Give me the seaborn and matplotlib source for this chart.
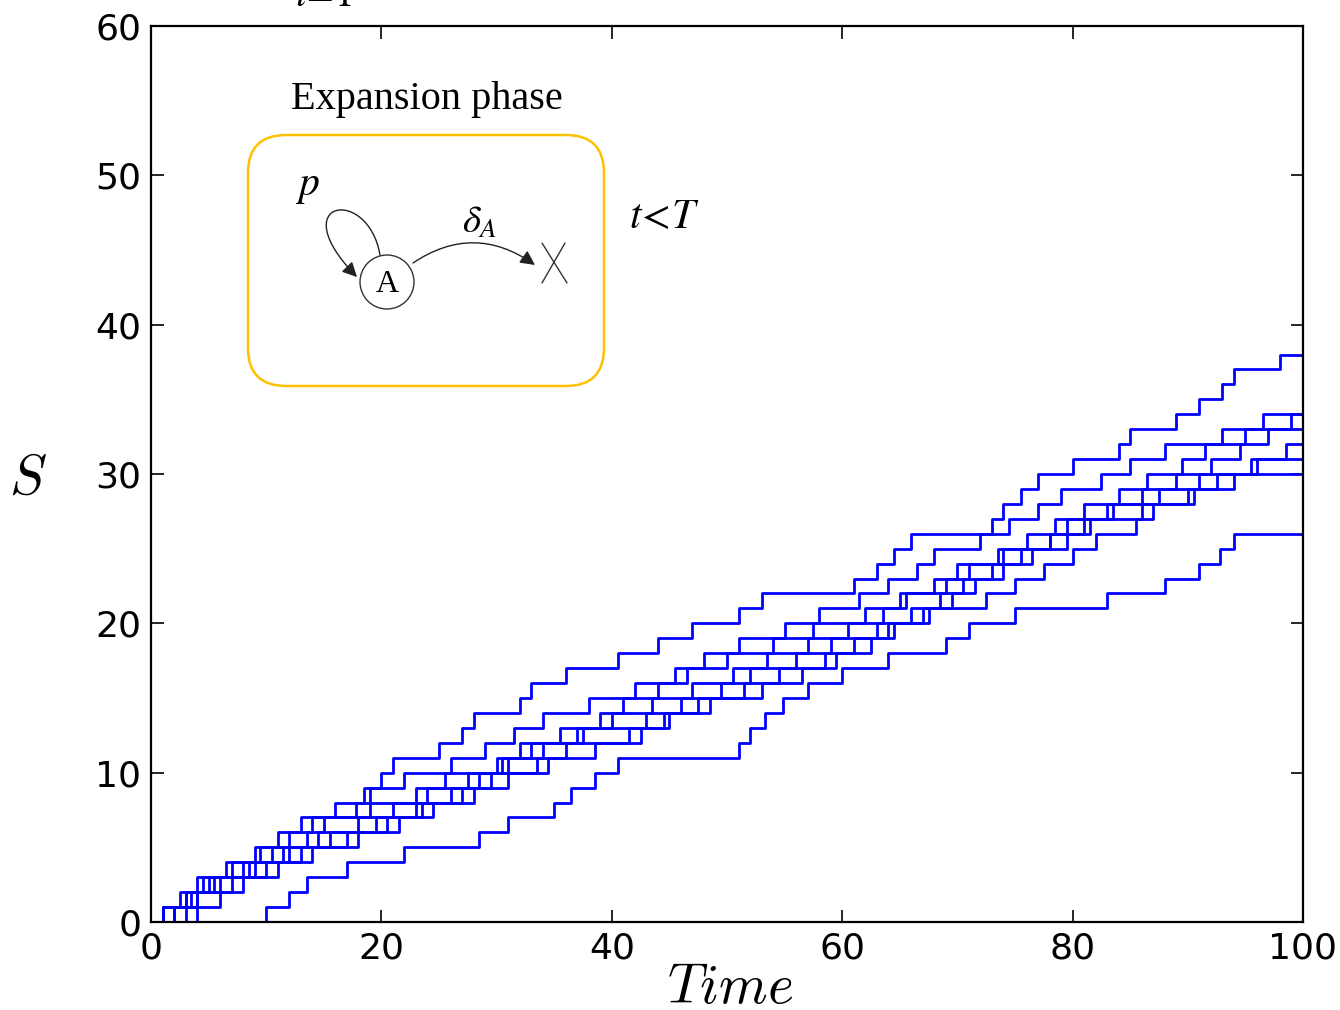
import numpy as np
import pandas as pd
import seaborn as sns
import matplotlib.pyplot as plt
from matplotlib.patches import FancyBboxPatch, Circle, FancyArrowPatch
from matplotlib.path import Path

# ---------------- data: jump times of each stochastic trajectory ----------------
T_END = 100
run1_jumps = [1, 2.5, 4, 6.5, 9.5, 12, 14, 17.8, 19, 20, 21, 25, 27, 28, 32, 33, 36,
              40.5, 44, 47, 51, 53, 61, 63, 64.5, 66, 73, 74, 75.5, 77, 80, 84, 85,
              89, 91, 93, 94, 98]
run2_jumps = [2, 3, 4.5, 7, 9, 11, 13, 16, 18.5, 22, 26, 29, 31.5, 34, 38, 42, 45.5,
              48, 51, 55, 58, 61.5, 64, 66.5, 68, 72, 74.5, 77, 79, 82.5, 85, 88, 93,
              96.5]
run3_jumps = [1, 3.5, 5, 8, 10.5, 13.5, 15, 19, 23, 25.5, 30, 32, 35.5, 39, 41, 44,
              46.5, 50, 54, 57.5, 62, 65.5, 69, 71, 73.5, 76, 78.5, 81, 84, 86.5, 89.5,
              91.5, 95, 99]
run4_jumps = [2, 4, 6, 9, 12, 14.5, 18, 21, 24, 27.5, 30.5, 33, 37, 43, 46, 49.5, 52,
              56, 59, 63, 66, 68.5, 70.5, 74, 76.5, 79.5, 81.5, 83, 86, 89, 92, 94.5, 97]
run5_jumps = [1, 3, 5.5, 8.5, 11.5, 15.5, 19.5, 23.5, 28, 31, 34.5, 38.5, 42.5, 45,
              47.5, 51.5, 54.5, 58.5, 61, 64.5, 67.5, 72.5, 75, 77.5, 80, 82, 85.5, 87,
              90, 92.5, 95.5, 98.5]
run6_jumps = [3, 4, 7, 10, 13, 17, 20.5, 24.5, 27, 29.5, 33.5, 36, 41.5, 44.5, 48.5,
              53, 56.5, 59.5, 62.5, 64, 67, 69.5, 71.5, 73, 75.5, 78, 79.5, 83.5, 87.5,
              91, 96]
run7_jumps = [4, 6, 8, 11, 14, 18, 21.5, 23, 26, 28.5, 31, 34, 37.5, 40, 43.5, 47,
              50.5, 53.5, 57, 60.5, 63.5, 65, 68, 70, 74, 78, 81, 86, 90.5, 94]
run8_jumps = [10, 12, 13.5, 17, 22, 28.5, 31, 35, 36.5, 38.5, 40.5, 51, 52, 53.3, 54.9,
              57, 60, 64, 69, 71, 75, 83, 88, 91, 92.8, 94]

runs = [run1_jumps, run2_jumps, run3_jumps, run4_jumps,
        run5_jumps, run6_jumps, run7_jumps, run8_jumps]

x_ticks = [0, 20, 40, 60, 80, 100]
y_ticks = [0, 10, 20, 30, 40, 50, 60]

rows = []
for k, jumps in enumerate(runs):
    times = [0.0] + list(jumps) + [T_END]
    vals = list(range(len(jumps) + 1)) + [len(jumps)]
    for t, s in zip(times, vals):
        rows.append({"run": k, "time": t, "S": s})
df = pd.DataFrame(rows)

# ---------------- figure ----------------
sns.set_style("ticks")
plt.rcParams["font.family"] = ["DejaVu Sans"]
plt.rcParams["mathtext.fontset"] = "cm"
plt.rcParams["text.color"] = "black"
plt.rcParams["axes.labelcolor"] = "black"

W, H = 1340, 1010
fig = plt.figure(figsize=(W / 100, H / 100), dpi=100)
ax = fig.add_axes([151 / W, 1 - 922 / H, (1303 - 151) / W, (922 - 26) / H])

sns.lineplot(data=df, x="time", y="S", units="run", estimator=None, sort=False,
             color="#0000ff", lw=2.0, drawstyle="steps-post", legend=False, ax=ax)

ax.set_xlim(0, 100)
ax.set_ylim(0, 60)
ax.set_xticks(x_ticks)
ax.set_yticks(y_ticks)
ax.tick_params(direction="in", top=True, right=True, length=9, width=1.2,
               labelsize=26, pad=7, colors="black")
for sp in ax.spines.values():
    sp.set_linewidth(1.6)
    sp.set_color("black")

ax.set_xlabel("$Time$", fontsize=40, va="center")
ax.xaxis.set_label_coords(0.503, -0.074)
ax.set_ylabel("$S$", fontsize=40, rotation=0, va="center", ha="center")
ax.yaxis.set_label_coords(-0.107, 0.495)

# ---------------- overlay (pixel coordinates) ----------------
ov = fig.add_axes([0, 0, 1, 1], zorder=5)
ov.set_xlim(0, W)
ov.set_ylim(H, 0)
ov.axis("off")
ov.patch.set_alpha(0)

# cut-off text at the very top (belongs to an equation above the figure)
ov.text(323, -5, r"$i\!=\!1$", fontsize=28, ha="center", va="center",
        math_fontfamily="stix")

ov.text(427, 100, "Expansion phase", fontsize=29, ha="center", va="center",
        family="Liberation Serif")

box = FancyBboxPatch((248, 135), 604 - 248, 386 - 135,
                     boxstyle="round,pad=0,rounding_size=38",
                     edgecolor="#FFC000", facecolor="none", lw=1.8)
ov.add_patch(box)

ov.add_patch(Circle((387, 282), 27, edgecolor="#333333", facecolor="white", lw=1.0))
ov.text(387, 284, "A", fontsize=23, ha="center", va="center", family="Liberation Serif")

loop = Path([(380, 255), (368, 185), (282, 200), (357, 277)],
            [Path.MOVETO, Path.CURVE4, Path.CURVE4, Path.CURVE4])
ov.add_patch(FancyArrowPatch(path=loop, arrowstyle="-|>", mutation_scale=22,
                             color="#222222", lw=1.0))
arc = Path([(413, 263), (474, 222), (535, 265)],
           [Path.MOVETO, Path.CURVE3, Path.CURVE3])
ov.add_patch(FancyArrowPatch(path=arc, arrowstyle="-|>", mutation_scale=22,
                             color="#222222", lw=1.0))

ov.plot([542, 567], [243, 283], color="#333333", lw=1.0)
ov.plot([542, 565], [283, 243], color="#333333", lw=1.0)

ov.text(307, 185, "$p$", fontsize=30, ha="center", va="center", math_fontfamily="stix")
ov.text(480, 222, r"$\delta_A$", fontsize=28, ha="center", va="center",
        math_fontfamily="stix")
ov.text(664, 216, r"$t\!<\!T$", fontsize=30, ha="center", va="center",
        math_fontfamily="stix")

fig.savefig("out.png", dpi=100)
